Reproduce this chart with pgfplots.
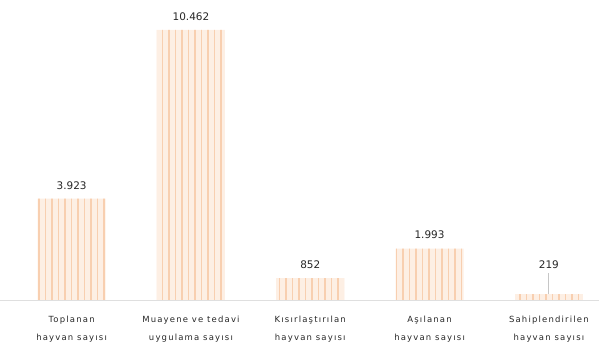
\documentclass[border=0pt]{standalone}
\usepackage{pgfplots}
\pgfplotsset{compat=1.18}
\usepackage{fontspec}
\setmainfont{DejaVu Sans}
\newfontfamily\catfont[LetterSpace=14]{DejaVu Sans}
\usetikzlibrary{patterns.meta}
\definecolor{barbg}{HTML}{FDEFE4}
\definecolor{barline}{HTML}{F8CFB0}
\definecolor{txt}{HTML}{262626}
\begin{document}
\begin{tikzpicture}
\begin{axis}[
  scale only axis,
  width=599bp, height=349bp,
  xmin=-0.6, xmax=4.42,
  ymin=-1899, ymax=11624,
  axis x line=middle,
  axis y line=none,
  axis line style={draw=gray!25, -},
  xtick={0,1,2,3,4},
  xticklabels={{Toplanan\\[7bp]hayvan sayısı},{Muayene ve tedavi\\[7bp]uygulama sayısı},{Kısırlaştırılan\\[7bp]hayvan sayısı},{Aşılanan\\[7bp]hayvan sayısı},{Sahiplendirilen\\[7bp]hayvan sayısı}},
  xticklabel style={align=center, font=\catfont\fontsize{8.5}{11bp}\selectfont, text=txt, anchor=north, yshift=-13bp},
  major tick length=0pt,
  bar shift=0pt,
  every node near coord/.append style={font=\fontsize{10.5}{12}\selectfont, text=txt, yshift=6bp},
  clip=false,
]
\addplot[ybar, bar width=68bp, draw=none, fill=barbg, postaction={pattern={Lines[angle=90,distance=6.5bp,line width=1.6bp]}, pattern color=barline},
  nodes near coords, point meta=explicit symbolic]
  table[meta=lab] {
x y lab
0 3923 3.923
1 10462 10.462
2 852 852
3 1993 1.993
};
\addplot[ybar, bar width=68bp, draw=none, fill=barbg, postaction={pattern={Lines[angle=90,distance=6.5bp,line width=1.6bp]}, pattern color=barline}]
  table {
x y
4 219
};
\addplot[draw=gray!45, line width=0.8bp, no markers] coordinates {(4,219) (4,1050)}
  node[pos=1, anchor=south, font=\fontsize{10.5}{12}\selectfont, text=txt, yshift=1bp] {219};
\end{axis}
\pgfresetboundingbox
\path (current axis.south west) rectangle (current axis.north east);
\end{tikzpicture}
\end{document}
